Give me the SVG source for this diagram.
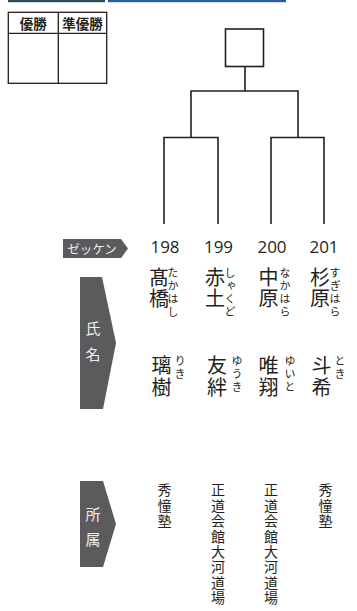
<svg xmlns="http://www.w3.org/2000/svg" width="357" height="611" viewBox="0 0 357 611">
<style>
.ln{fill:none;stroke:#231f20;stroke-width:1.6}
.tb{fill:none;stroke:#231f20;stroke-width:1.3}
.lab{fill:#5b5b5d}
.labt{font-family:"Noto Sans CJK JP",sans-serif;fill:#eeeeee;font-size:15px;text-anchor:middle}
.num{font-family:"Open Sans","Noto Sans",sans-serif;font-size:17px;fill:#231f20;text-anchor:middle}
.kj{font-family:"Noto Sans CJK JP",sans-serif;font-size:20px;fill:#231f20;writing-mode:vertical-rl;letter-spacing:1px}
.kg{letter-spacing:2px}
.fg{font-family:"Noto Sans CJK JP",sans-serif;font-size:11px;fill:#231f20;writing-mode:vertical-rl;letter-spacing:2px}
.af{font-family:"Noto Sans CJK JP",sans-serif;font-size:14px;fill:#231f20;writing-mode:vertical-rl;letter-spacing:1.4px}
.th{font-family:"Noto Sans CJK JP",sans-serif;font-size:13.5px;font-weight:bold;fill:#231f20;text-anchor:middle}
</style>
<g id="topbar">
<rect x="8" y="0" width="97" height="2.2" fill="#2c4a5e"/>
<rect x="108" y="0" width="178" height="2.2" fill="#2a5caa"/>
</g>
<g id="table">
<rect class="tb" x="8.3" y="12.3" width="98.4" height="71"/>
<line class="tb" x1="8.3" y1="33.3" x2="106.7" y2="33.3"/>
<line class="tb" x1="58.3" y1="12.3" x2="58.3" y2="83.3"/>
<text class="th" x="33.3" y="29">優勝</text>
<text class="th" x="82.5" y="29">準優勝</text>
</g>
<g id="winner">
<rect class="ln" x="225.5" y="29" width="38" height="37.5"/>
</g>
<g id="connectors">
<path class="ln" d="M245,66.5V91M191,138V91H298V138"/>
<path class="ln" d="M164,224V137.5H218V224M191,137.5V138"/>
<path class="ln" d="M271,224V137.5H324V224M298,137.5V138"/>
</g>
<g id="label-zekken">
<polygon class="lab" points="63,239 121,239 128,248.5 121,258 63,258"/>
<text class="labt" x="92" y="253.5" style="font-size:12.5px">ゼッケン</text>
</g>
<g id="label-name">
<polygon class="lab" points="80,277 102,277 116,343 103,409 80,409"/>
<text class="labt" x="93" y="334">氏</text>
<text class="labt" x="93" y="360">名</text>
</g>
<g id="label-affil">
<polygon class="lab" points="80,481 103,481 116,524 103,567 80,567"/>
<text class="labt" x="93" y="520">所</text>
<text class="labt" x="93" y="545">属</text>
</g>
<g id="p198">
<text class="num" x="165" y="253">198</text>
<text class="kj" x="159" y="267">髙橋</text>
<text class="fg" x="173" y="267">たかはし</text>
<text class="kj kg" x="161.5" y="355">璃樹</text>
<text class="fg" x="180" y="355">りき</text>
<text class="af" x="164.5" y="483">秀憧塾</text>
</g>
<g id="p199">
<text class="num" x="218.5" y="253">199</text>
<text class="kj" x="215" y="267">赤土</text>
<text class="fg" x="230" y="267">しゃくど</text>
<text class="kj kg" x="217" y="355">友絆</text>
<text class="fg" x="237" y="355">ゆうき</text>
<text class="af" x="218" y="483">正道会館大河道場</text>
</g>
<g id="p200">
<text class="num" x="272" y="253">200</text>
<text class="kj" x="268.5" y="267">中原</text>
<text class="fg" x="285" y="267">なかはら</text>
<text class="kj kg" x="268.5" y="355">唯翔</text>
<text class="fg" x="290" y="355">ゆいと</text>
<text class="af" x="271" y="483">正道会館大河道場</text>
</g>
<g id="p201">
<text class="num" x="324" y="253">201</text>
<text class="kj" x="320" y="267">杉原</text>
<text class="fg" x="335" y="267">すぎはら</text>
<text class="kj kg" x="321.5" y="355">斗希</text>
<text class="fg" x="340" y="355">とき</text>
<text class="af" x="325.5" y="483">秀憧塾</text>
</g>
</svg>
